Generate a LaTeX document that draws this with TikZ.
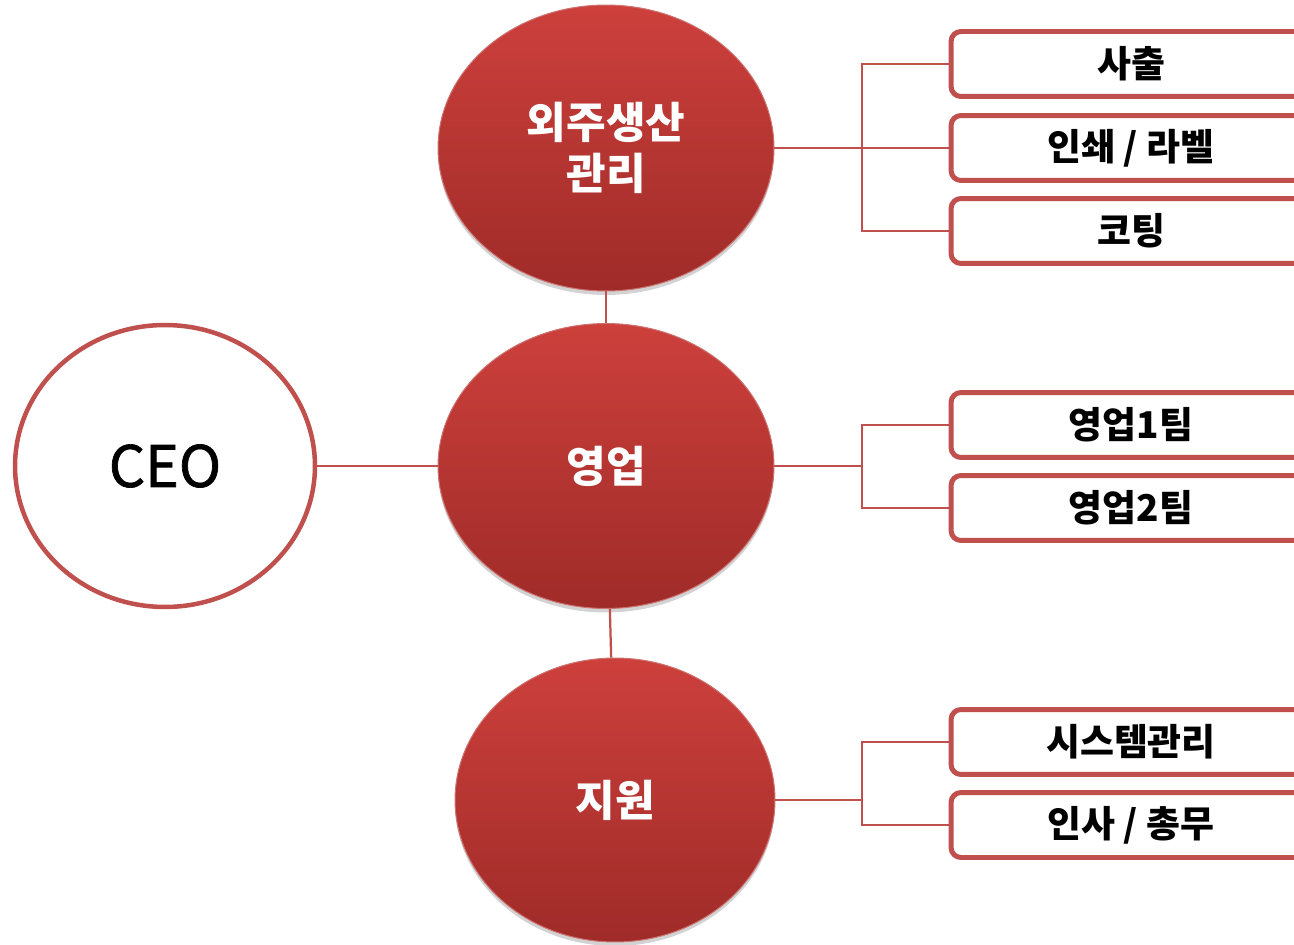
\documentclass[tikz,border=0pt]{standalone}
\usepackage{fontspec}
\newfontfamily\kr{Noto Sans CJK KR}
\newfontfamily\krceo[FakeBold=1.2]{Noto Sans CJK KR}
\usepackage{tikz}
\usetikzlibrary{positioning,shadows,shapes.geometric}

\definecolor{brd}{HTML}{C0504D}
\definecolor{topred}{HTML}{CD403C}
\definecolor{botred}{HTML}{9F2B28}

\begin{document}
\begin{tikzpicture}[x=0.02cm, y=-0.02cm,
  ceo/.style={ellipse, draw=brd, line width=0.09cm, fill=white, minimum width=6cm, minimum height=5.64cm, font=\krceo\fontsize{32.5}{36}\selectfont},
  dept/.style={ellipse, draw=brd!80, line width=0.02cm, top color=topred, bottom color=botred, text=white, align=center,
    drop shadow={opacity=0.35, shadow xshift=0cm, shadow yshift=-0.08cm},
    font=\kr\bfseries\fontsize{24.5}{29}\selectfont},
  team/.style={draw=brd, line width=0.1cm, rounded corners=0.2cm, fill=white, minimum width=7.2cm, minimum height=1.3cm,
    font=\kr\bfseries\fontsize{21}{24}\selectfont},
  link/.style={draw=brd, line width=0.045cm}
]
\useasboundingbox (0,0) rectangle (1294,945);
\clip (0,0) rectangle (1294,945);

% centre column
\node[ceo] (ceo) at (165,466) {CEO};
\node[dept, minimum width=6.72cm, minimum height=5.72cm] (out) at (606,148) {외주생산\\관리};
\node[dept, minimum width=6.72cm, minimum height=5.70cm] (sales) at (606,466) {영업};
\node[dept, minimum width=6.4cm, minimum height=5.68cm] (supp) at (615,800) {지원};

% teams on the right
\node[team] (t1) at (1131,64) {사출};
\node[team] (t2) at (1131,148) {인쇄 / 라벨};
\node[team] (t3) at (1131,231) {코팅};
\node[team] (t4) at (1131,425) {영업1팀};
\node[team] (t5) at (1131,508) {영업2팀};
\node[team] (t6) at (1131,742) {시스템관리};
\node[team] (t7) at (1131,825) {인사 / 총무};

\coordinate (j1) at (862,148);
\coordinate (j2) at (862,466);
\coordinate (j3) at (862,800);

\draw[link] (ceo) -- (sales);
\draw[link] (out) -- (sales);
\draw[link] (sales) -- (supp);
\draw[link] (out.east) -- (t2.west);
\draw[link] (t1.west) -| (j1) |- (t3.west);
\draw[link] (sales.east) -- (j2);
\draw[link] (t4.west) -| (j2) |- (t5.west);
\draw[link] (supp.east) -- (j3);
\draw[link] (t6.west) -| (j3) |- (t7.west);
\end{tikzpicture}
\end{document}
